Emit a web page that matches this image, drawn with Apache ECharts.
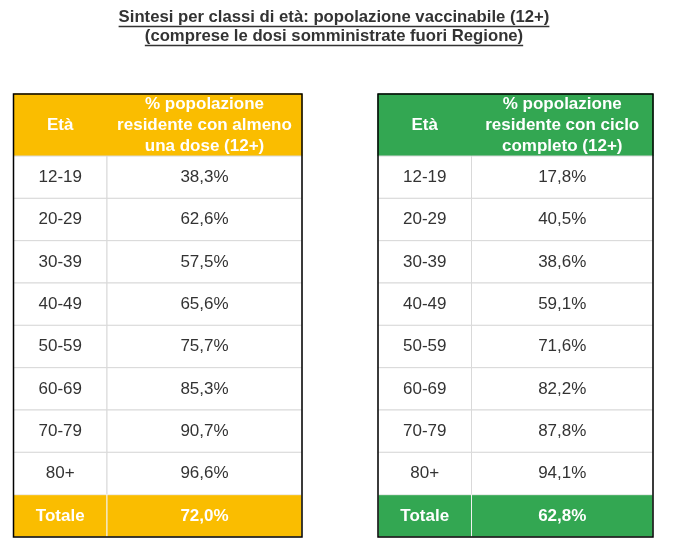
<!DOCTYPE html>
<html>
<head>
<meta charset="utf-8">
<script src="https://cdn.jsdelivr.net/npm/echarts@6/dist/echarts.min.js"></script>
<style>
  html, body { margin: 0; padding: 0; background: #fff; }
  #main { width: 674px; height: 557px; }
</style>
</head>
<body>
<div id="main"></div>
<script>
// dati della tabella
var ageGroups = ['12-19', '20-29', '30-39', '40-49', '50-59', '60-69', '70-79', '80+'];
var oneDose = [38.3, 62.6, 57.5, 65.6, 75.7, 85.3, 90.7, 96.6];
var fullCycle = [17.8, 40.5, 38.6, 59.1, 71.6, 82.2, 87.8, 94.1];
var totals = [72.0, 62.8];
var colHeaders = ['Età', '% popolazione\nresidente con almeno\nuna dose (12+)', '% popolazione\nresidente con ciclo\ncompleto (12+)'];
var totalLabel = 'Totale';
var titleLines = ['Sintesi per classi di età: popolazione vaccinabile (12+)', '(comprese le dosi somministrate fuori Regione)'];

var FONT = '"Liberation Sans", Arial, sans-serif';
var HEADER_H = 1.465; // altezza intestazione in righe
var AGE_COL = 93.5;   // larghezza colonna Età in px

function fmt (v) {
  return v.toFixed(1).replace('.', ',') + '%';
}

function buildRows (values, total, header) {
  var rows = [[0, -1, colHeaders[0]], [1, -1, header]];
  ageGroups.forEach(function (a, i) {
    rows.push([0, i, a]);
    rows.push([1, i, fmt(values[i])]);
  });
  rows.push([0, ageGroups.length, totalLabel]);
  rows.push([1, ageGroups.length, fmt(total)]);
  return rows;
}

function makeRender (width, color, texts) {
  return function (params, api) {
    var col = api.value(0);
    var row = api.value(1);
    var x0 = col === 0 ? 0 : AGE_COL;
    var x1 = col === 0 ? AGE_COL : width;
    var y0 = row < 0 ? -HEADER_H : row;
    var y1 = row < 0 ? 0 : row + 1;
    var p0 = api.coord([x0, y0]);
    var p1 = api.coord([x1, y1]);
    var isHead = row < 0;
    var isTot = row === ageGroups.length;
    var colored = isHead || isTot;
    return {
      type: 'group',
      children: [
        {
          type: 'rect',
          shape: { x: p0[0], y: p0[1], width: p1[0] - p0[0], height: p1[1] - p0[1] },
          style: {
            fill: colored ? color : '#fff',
            stroke: isHead ? color : (isTot ? '#f2f2f2' : '#d9d9d9'),
            lineWidth: 1
          }
        },
        {
          type: 'text',
          style: {
            x: (p0[0] + p1[0]) / 2,
            y: (p0[1] + p1[1]) / 2,
            text: texts[params.dataIndex],
            align: 'center',
            verticalAlign: 'middle',
            fontFamily: FONT,
            fontSize: 17,
            lineHeight: 21,
            fontWeight: colored ? 'bold' : 'normal',
            fill: colored ? '#fff' : '#333'
          }
        }
      ]
    };
  };
}

var tables = [
  { left: 13.5, width: 288.5, color: '#FABD00', rows: buildRows(oneDose, totals[0], colHeaders[1]) },
  { left: 378, width: 275, color: '#33A752', rows: buildRows(fullCycle, totals[1], colHeaders[2]) }
];

// misura del titolo per la sottolineatura
var TITLE_SIZE = 16.7;
var TITLE_X = 334;
var ctx = document.createElement('canvas').getContext('2d');
ctx.font = 'bold ' + TITLE_SIZE + 'px ' + FONT;
var titleY = [17, 36];
var underline = titleLines.map(function (t, i) {
  var w = ctx.measureText(t).width;
  return {
    type: 'line',
    shape: { x1: TITLE_X - w / 2, y1: titleY[i] + 9.5, x2: TITLE_X + w / 2, y2: titleY[i] + 9.5 },
    style: { stroke: '#333', lineWidth: 1.4 }
  };
});
var titleTexts = titleLines.map(function (t, i) {
  return {
    type: 'text',
    style: {
      x: TITLE_X, y: titleY[i], text: t, align: 'center', verticalAlign: 'middle',
      fontFamily: FONT, fontSize: TITLE_SIZE, fontWeight: 'bold', fill: '#333'
    }
  };
});

var chart = echarts.init(document.getElementById('main'));
chart.setOption({
  animation: false,
  graphic: titleTexts.concat(underline),
  grid: tables.map(function (t) {
    return {
      left: t.left, top: 94, width: t.width, height: 443,
      show: true, borderColor: '#000', borderWidth: 1.5, backgroundColor: 'transparent', z: 10
    };
  }),
  xAxis: tables.map(function (t, i) {
    return { type: 'value', gridIndex: i, min: 0, max: t.width, show: false };
  }),
  yAxis: tables.map(function (t, i) {
    return { type: 'value', gridIndex: i, min: -HEADER_H, max: ageGroups.length + 1, inverse: true, show: false };
  }),
  series: tables.map(function (t, i) {
    var texts = t.rows.map(function (r) { return r[2]; });
    return {
      type: 'custom',
      xAxisIndex: i,
      yAxisIndex: i,
      silent: true,
      renderItem: makeRender(t.width, t.color, texts),
      data: t.rows.map(function (r) { return [r[0], r[1]]; })
    };
  })
});
</script>
</body>
</html>
